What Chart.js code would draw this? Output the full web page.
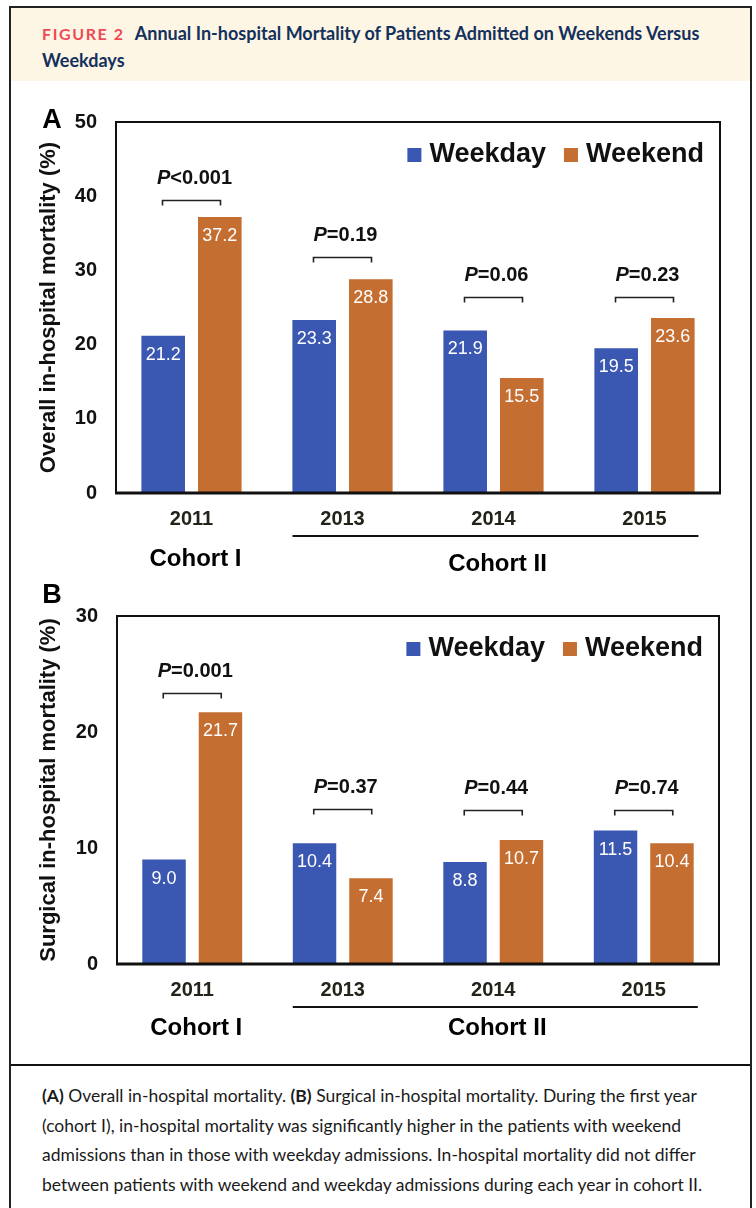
<!DOCTYPE html>
<html>
<head>
<meta charset="utf-8">
<script src="https://cdn.jsdelivr.net/npm/chart.js@4.4.1/dist/chart.umd.min.js"></script>
<style>
  html, body { margin: 0; padding: 0; background: #fff; width: 756px; height: 1208px; overflow: hidden; }
  #frame { position: absolute; left: 9px; top: 6px; width: 743px; height: 1230px; box-sizing: border-box; border: 2px solid #222; }
  #head { position: absolute; left: 0; top: 0; width: 739px; height: 73px; background: #fdf6e5; box-sizing: border-box; padding: 12px 0 0 31px; font: bold 18px/26px Lato, "Open Sans", sans-serif; color: #14305c; }
  #head .fig { color: #ee4a55; letter-spacing: 1.6px; margin-right: 10px; font-size: 16px; }
  #caption { position: absolute; left: 0; top: 1056px; width: 739px; border-top: 2px solid #111; box-sizing: border-box; padding: 15px 0 0 31px; font: 17.5px/29.5px Lato, "Open Sans", sans-serif; color: #1a1a1a; }
  canvas { position: absolute; left: 0; }
</style>
</head>
<body>
<div id="frame">
  <div id="head"><span class="fig">FIGURE 2</span>Annual In-hospital Mortality of Patients Admitted on Weekends Versus<br>Weekdays</div>
  <div id="caption"><b>(A)</b> Overall in-hospital mortality. <b>(B)</b> Surgical in-hospital mortality. During the first year<br>(cohort I), in-hospital mortality was significantly higher in the patients with weekend<br>admissions than in those with weekday admissions. In-hospital mortality did not differ<br>between patients with weekend and weekday admissions during each year in cohort II.</div>
</div>
<canvas id="chartA" width="756" height="492" style="top:88px"></canvas>
<canvas id="chartB" width="756" height="480" style="top:580px"></canvas>
<script>
// data
var years = ['2011', '2013', '2014', '2015'];
var seriesNames = ['Weekday', 'Weekend'];

var overallWeekday = [21.2, 23.3, 21.9, 19.5];
var overallWeekend = [37.2, 28.8, 15.5, 23.6];
var overallP = ['<0.001', '=0.19', '=0.06', '=0.23'];
var overallBracket = [39.5, 31.8, 26.4, 26.4];

var surgicalWeekday = [9.0, 10.4, 8.8, 11.5];
var surgicalWeekend = [21.7, 7.4, 10.7, 10.4];
var surgicalP = ['=0.001', '=0.37', '=0.44', '=0.74'];
var surgicalBracket = [23.4, 13.4, 13.3, 13.3];

var cohortLabels = ['Cohort I', 'Cohort II'];
var cohortFirst = [0, 1];
var cohortLast = [0, 3];

var BLUE = '#3a57b1';
var ORANGE = '#c56e31';
var FONT = '"Liberation Sans", Arial, sans-serif';

// draws the things Chart.js has no option for: frame, bar labels, brackets, legend, cohorts
var extrasPlugin = {
    id: 'extras',
    afterDatasetsDraw: function (chart, args, opts) {
	var ctx = chart.ctx;
	var area = chart.chartArea;
	var xs = chart.scales.x, ys = chart.scales.y;
	ctx.save();

	// value labels inside bar tops
	ctx.fillStyle = '#fff';
	ctx.font = '18px ' + FONT;
	ctx.textAlign = 'center';
	ctx.textBaseline = 'middle';
	chart.data.datasets.forEach(function (ds, di) {
	    chart.getDatasetMeta(di).data.forEach(function (bar, i) {
		ctx.fillText(ds.data[i].toFixed(1), bar.x, bar.y + 19);
	    });
	});

	// plot frame
	ctx.strokeStyle = '#111';
	ctx.lineWidth = 2;
	ctx.strokeRect(area.left, area.top, area.right - area.left, area.bottom - area.top);
	ctx.lineWidth = 3;
	ctx.beginPath();
	ctx.moveTo(area.left - 1, area.bottom);
	ctx.lineTo(area.right + 1, area.bottom);
	ctx.stroke();

	// brackets + P values
	var fItal = 'italic bold 20px ' + FONT;
	var fBold = 'bold 20px ' + FONT;
	opts.pValues.forEach(function (p, i) {
	    var cx = xs.getPixelForValue(i);
	    var by = Math.round(ys.getPixelForValue(opts.brackets[i])) + 0.5;
	    ctx.strokeStyle = '#222';
	    ctx.lineWidth = 1.6;
	    ctx.beginPath();
	    ctx.moveTo(cx - 29, by + 5);
	    ctx.lineTo(cx - 29, by);
	    ctx.lineTo(cx + 29, by);
	    ctx.lineTo(cx + 29, by + 5);
	    ctx.stroke();
	    ctx.font = fItal;
	    var w1 = ctx.measureText('P').width;
	    ctx.font = fBold;
	    var w2 = ctx.measureText(p).width;
	    var sx = cx + 3 - (w1 + w2) / 2;
	    ctx.fillStyle = '#111';
	    ctx.textAlign = 'left';
	    ctx.font = fItal;
	    ctx.fillText('P', sx, by - 22);
	    ctx.font = fBold;
	    ctx.fillText(p, sx + w1, by - 22);
	});

	// legend, top right inside the plot
	ctx.font = 'bold 27px ' + FONT;
	ctx.textBaseline = 'middle';
	ctx.textAlign = 'left';
	var ly = area.top + 33;
	var right = area.right - 16;
	var dsets = chart.data.datasets;
	for (var k = dsets.length - 1; k >= 0; k--) {
	    var tw = ctx.measureText(dsets[k].label).width;
	    var tx = right - tw;
	    ctx.fillStyle = '#111';
	    ctx.fillText(dsets[k].label, tx, ly);
	    ctx.fillStyle = dsets[k].backgroundColor;
	    ctx.fillRect(tx - 8 - 14, ly - 7, 14, 14);
	    right = tx - 8 - 14 - 18;
	}

	// panel letter
	ctx.fillStyle = '#000';
	ctx.font = 'bold 27px ' + FONT;
	ctx.textAlign = 'center';
	ctx.fillText(opts.letter, 52, area.top + opts.letterDy);

	// cohorts
	ctx.font = 'bold 24px ' + FONT;
	cohortLabels.forEach(function (lab, c) {
	    var x0 = xs.getPixelForValue(cohortFirst[c]);
	    var x1 = xs.getPixelForValue(cohortLast[c]);
	    if (cohortLast[c] > cohortFirst[c]) {
		ctx.strokeStyle = '#111';
		ctx.lineWidth = 2;
		ctx.beginPath();
		ctx.moveTo(x0 - 50, area.bottom + 43);
		ctx.lineTo(x1 + 54, area.bottom + 43);
		ctx.stroke();
	    }
	    ctx.fillStyle = '#000';
	    ctx.fillText(lab, (x0 + x1) / 2 + 4, area.bottom + opts.cohortDy[c]);
	});
	ctx.restore();
    }
};

function makeChart(id, weekday, weekend, yMax, yTitle, pValues, brackets, extra, pad, xHeight, yWidth) {
    var ctx = document.getElementById(id).getContext('2d');
    return new Chart(ctx, {
	type: 'bar',
	data: {
	    labels: years,
	    datasets: [
		{ label: seriesNames[0], data: weekday, backgroundColor: BLUE, borderWidth: 0 },
		{ label: seriesNames[1], data: weekend, backgroundColor: ORANGE, borderWidth: 0 }
	    ]
	},
	options: {
	    responsive: false,
	    animation: false,
	    devicePixelRatio: 1,
	    categoryPercentage: 0.75,
	    barPercentage: 0.77,
	    layout: { padding: pad },
	    plugins: {
		legend: { display: false },
		tooltip: { enabled: false },
		extras: Object.assign({ pValues: pValues, brackets: brackets }, extra)
	    },
	    scales: {
		x: {
		    grid: { display: false, drawTicks: false },
		    border: { display: false },
		    ticks: { color: '#23231a', font: { family: FONT, size: 20, weight: 'bold' }, padding: 14 },
		    afterFit: function (s) { s.height = xHeight; }
		},
		y: {
		    min: 0,
		    max: yMax,
		    grid: { display: false, drawTicks: false },
		    border: { display: false },
		    ticks: { stepSize: 10, color: '#111', font: { family: FONT, size: 20, weight: 'bold' }, padding: 19 },
		    title: {
			display: true,
			text: yTitle,
			color: '#111',
			font: { family: FONT, size: 22, weight: 'bold', lineHeight: 1.2 },
			padding: { top: 36, bottom: 0 }
		    },
		    afterFit: function (s) { s.width = yWidth; }
		}
	    }
	},
	plugins: [extrasPlugin]
    });
}

makeChart('chartA', overallWeekday, overallWeekend, 50, 'Overall in-hospital mortality (%)',
	  overallP, overallBracket, { letter: 'A', letterDy: -1, cohortDy: [66, 71] },
	  { left: 0, right: 36, top: 34, bottom: 0 }, 87, 116);

makeChart('chartB', surgicalWeekday, surgicalWeekend, 30, 'Surgical in-hospital mortality (%)',
	  surgicalP, surgicalBracket, { letter: 'B', letterDy: -20, cohortDy: [64, 64] },
	  { left: 0, right: 37, top: 36, bottom: 0 }, 96, 117);
</script>
</body>
</html>
